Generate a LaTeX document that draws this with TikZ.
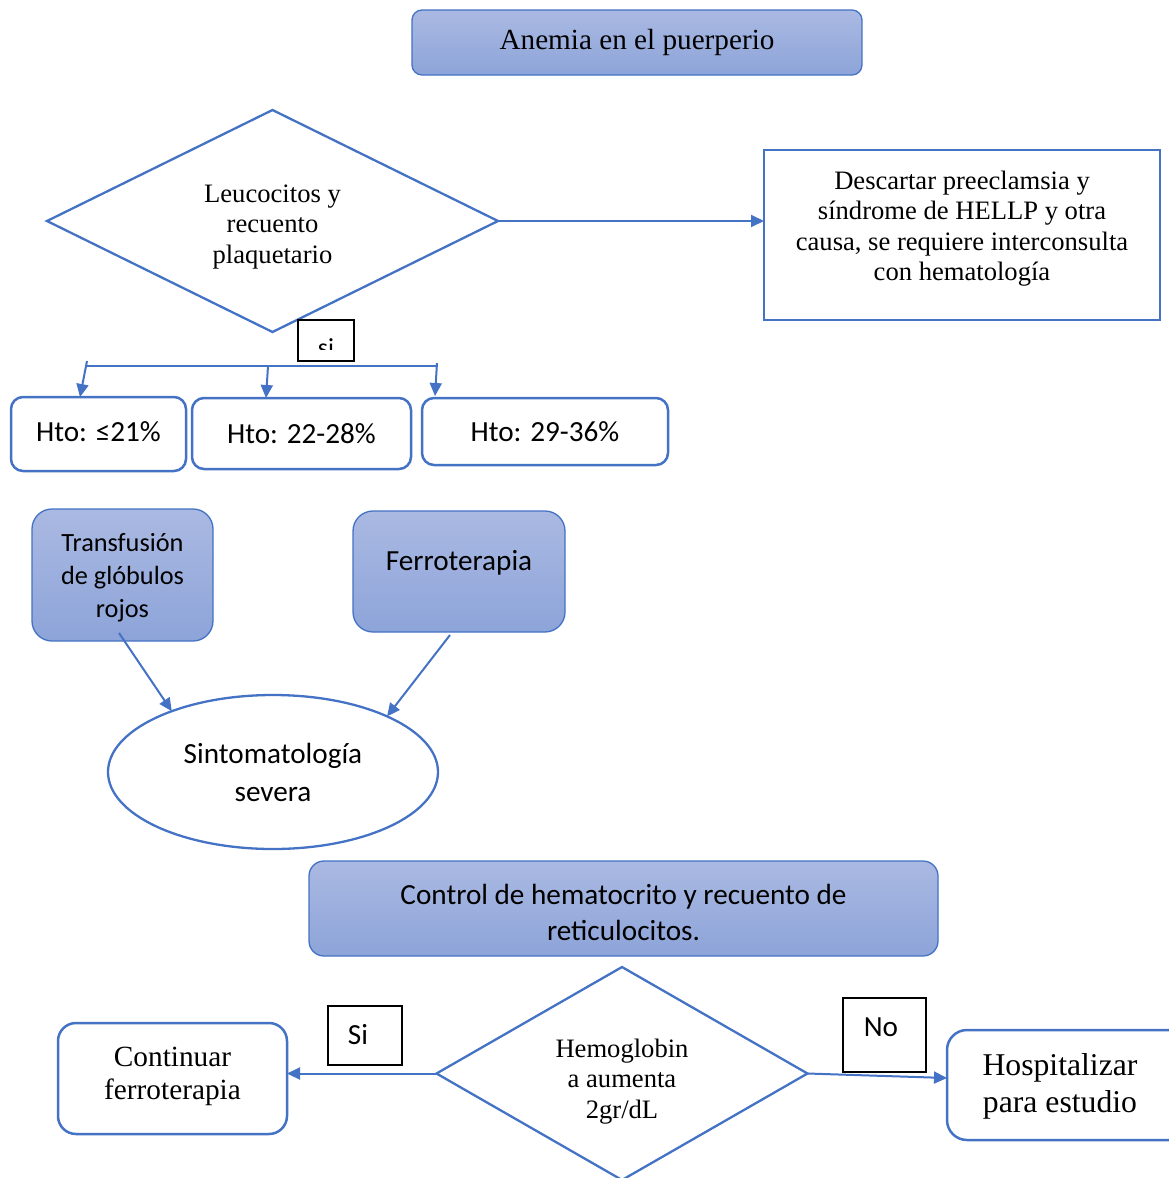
\documentclass[tikz,border=0pt]{standalone}
\usepackage{fontspec}
\setmainfont{Liberation Serif}
\newfontfamily\calfont{Carlito}
\usetikzlibrary{shapes.geometric,arrows.meta}
\definecolor{bl}{RGB}{68,114,196}
\definecolor{gtop}{RGB}{170,185,226}
\definecolor{gbot}{RGB}{141,164,217}
\begin{document}
\begin{tikzpicture}[x=1pt,y=-1pt,
  every node/.style={inner sep=0pt, outer sep=0pt},
  arr/.style={draw=bl, line width=2pt, -{Triangle[length=13pt,width=12pt]}},
  gbox/.style={draw=bl, line width=1.3pt, top color=gtop, bottom color=gbot},
  wbox/.style={draw=bl, line width=2.5pt, fill=white},
  lbl/.style={draw=black, line width=1.2pt, fill=white},
  tms/.style={font=\fontsize{26.6}{30.5}\selectfont, align=center},
  cal/.style={font=\calfont\fontsize{29.2}{36}\selectfont, align=center},
]
\useasboundingbox (0,0) rectangle (1169,1178);
\clip (0,0) rectangle (1169,1178);

% title
\node[gbox, rounded corners=10pt, minimum width=450pt, minimum height=65pt,
      font=\fontsize{29.2}{33}\selectfont] (title) at (637,42.5) {Anemia en el puerperio};

% first decision
\node[draw=bl, line width=2.3pt, diamond, minimum width=451pt, minimum height=222pt]
  (d1) at (272.5,221) {};
\node[tms] (d1t) at (272.5,227) {Leucocitos y\\recuento\\plaquetario};

\node[draw=bl, line width=2.5pt, minimum width=396pt, minimum height=170pt] (desc) at (962,235) {};
\node[tms] (desct) at (962,228.5) {Descartar preeclamsia y\\síndrome de HELLP y otra\\causa, se requiere interconsulta\\con hematología};
\draw[arr] (d1.east) -- (d1.east -| desc.west);

% si label (text clipped by its box)
\node[lbl, minimum width=56pt, minimum height=41pt] (si1) at (326,340.5) {};
\begin{scope}
  \clip (299,321) rectangle (353,349);
  \node[font=\calfont\fontsize{26}{30}\selectfont, anchor=base] (si1t) at (326,356) {si};
\end{scope}

% Hto boxes
\node[wbox, rounded corners=12pt, minimum width=175pt, minimum height=74pt, cal] (h1) at (98.5,434) {\raisebox{4pt}{Hto: ≤21\%}};
\node[wbox, rounded corners=12pt, minimum width=219pt, minimum height=71pt, cal] (h2) at (301.5,433.5) {Hto: 22-28\%};
\node[wbox, rounded corners=12pt, minimum width=246pt, minimum height=67pt, cal] (h3) at (545,431.5) {Hto: 29-36\%};

\coordinate (hl) at (87,366);
\coordinate (hr) at (437,366);
\draw[bl, line width=1.5pt] (hl) -- (hr);
\coordinate (a1s) at (87,361);
\coordinate (a2s) at (268,366);
\coordinate (a3s) at (437,363);
\draw[arr] (a1s) -- ([xshift=-18.5pt]h1.north);
\draw[arr] (a2s) -- ([xshift=-35.5pt]h2.north);
\draw[arr] (a3s) -- ([xshift=-110pt,yshift=2pt]h3.north);

% treatments
\node[gbox, rounded corners=20pt, minimum width=181pt, minimum height=132pt] (trans) at (122.5,575) {};
\node[font=\calfont\fontsize{26.3}{33}\selectfont, align=center] (transt) at (122.5,578) {Transfusión\\de glóbulos\\rojos};
\node[gbox, rounded corners=20pt, minimum width=212pt, minimum height=121pt] (ferro) at (459,571.5) {};
\node[cal] (ferrot) at (459,563) {Ferroterapia};

\node[draw=bl, line width=2.3pt, ellipse, minimum width=330pt, minimum height=154pt,
      font=\calfont\fontsize{29.2}{38}\selectfont, align=center]
  (sint) at (273,772) {Sintomatología\\severa};

\draw[arr] ([xshift=-3.5pt,yshift=8pt]trans.south) -- (sint.149);
\draw[arr] ([xshift=-9pt,yshift=-3pt]ferro.south) -- (sint.26);

% control
\node[gbox, rounded corners=15pt, minimum width=629pt, minimum height=95pt] (ctrl) at (623.5,908.5) {};
\node[cal] (ctrlt) at (623.5,912) {Control de hematocrito y recuento de\\reticulocitos.};

% second decision
\node[draw=bl, line width=2.3pt, diamond, minimum width=371pt, minimum height=213pt] (d2) at (622,1073.5) {};
\node[tms] (d2t) at (622,1081.5) {Hemoglobin\\a aumenta\\2gr/dL};

\node[wbox, rounded corners=18pt, minimum width=229pt, minimum height=111pt] (cont) at (172.5,1078.5) {};
\node[font=\fontsize{29.3}{33}\selectfont, align=center] (contt) at (172.5,1076.5) {Continuar\\ferroterapia};

\node[lbl, minimum width=74pt, minimum height=59pt] (si2) at (365,1035.5) {};
\node[cal] (si2t) at (358,1035) {Si};

\node[lbl, minimum width=83pt, minimum height=74pt] (no) at (884.5,1035) {};
\node[cal] (not) at (881,1027) {No};

\node[wbox, rounded corners=20pt, minimum width=250pt, minimum height=110pt] (hosp) at (1072,1085) {};
\node[font=\fontsize{31.7}{37}\selectfont, align=center] (hospt) at (1060,1086.5) {Hospitalizar\\para estudio};

\draw[arr] (d2.west) -- (d2.west -| cont.east);
\draw[arr] (d2.east) -- ([yshift=7pt]hosp.west);
\end{tikzpicture}
\end{document}
